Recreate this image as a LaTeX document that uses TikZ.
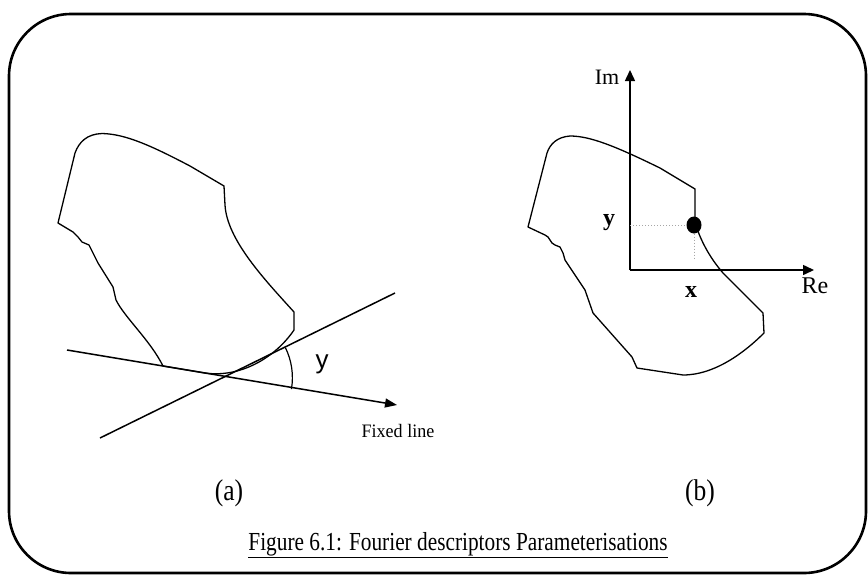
\documentclass[tikz,border=0pt]{standalone}
\usepackage{fontspec}
\setmainfont{Liberation Serif}
\newfontfamily\sansy{Liberation Sans}
\usetikzlibrary{arrows.meta,shapes.geometric}
\tikzset{
  outline/.style={line width=1.3pt, line join=round},
  axis/.style={line width=1.5pt, -{Triangle[length=11pt,width=10pt]}},
  tline/.style={line width=1.5pt},
  lbl/.style={inner sep=0pt, font=\fontsize{19}{22}\selectfont},
  bigl/.style={inner sep=0pt, font=\fontsize{30}{34}\selectfont},
  frame/.style={line width=2.6pt, rounded corners=62pt},
  guide/.style={gray!70, line width=1pt, dotted}
}
\begin{document}
\begin{tikzpicture}[x=1pt,y=-1pt]
\useasboundingbox (0,0) rectangle (868,576);
% frame
\draw[frame] (9,14) rectangle (866,573);

% ---------- (a) ----------
\draw[outline] (58,223) -- (75,153)
  .. controls (79,142) and (87,134) .. (102,133.5)
  .. controls (125,134) and (150,145) .. (190,166) -- (224,186)
  -- (225,205) .. controls (227,240) and (265,280) .. (294,312)
  -- (294,330) .. controls (275,358) and (240,378) .. (205,373)
  -- (163,366) .. controls (150,340) and (125,318) .. (116,300)
  -- (113,287) -- (98,263) -- (89,245) -- (82,242) -- (78,237) -- (73,232) -- cycle;

\coordinate (fA) at (67,350);
\coordinate (fB) at (397,405);
\coordinate (tA) at (100,438);
\coordinate (tB) at (395,293);
\coordinate (X) at (224.4,377.7);
\draw[tline, -{Triangle[length=12pt,width=9pt]}] (fA) -- (fB);
\draw[tline] (tA) -- (tB);
\draw[line width=1.2pt] (X) ++(9.7:68) arc[start angle=9.7, end angle=-26.2, radius=68];
\node[inner sep=0pt, font=\sansy\fontsize{26}{28}\selectfont] (gam) at (322,364) {y};
\node[lbl, font=\fontsize{19}{22}\selectfont] (fix) at (398,431) {\scalebox{0.95}[1]{Fixed line}};
\node[bigl] (la) at (229,493) {\scalebox{0.85}[1]{(a)}};

% ---------- (b) ----------
\draw[outline] (528,227) -- (547,153)
  .. controls (550,144) and (557,137) .. (570,136)
  .. controls (590,136) and (615,146) .. (660,168) -- (695,189)
  -- (695,222) .. controls (700,240) and (710,258) .. (723,273)
  -- (763,313) -- (764,333) .. controls (745,352) and (715,375) .. (683,375)
  -- (637,368) -- (632,357) -- (593,313) -- (585,290) -- (565,260)
  -- (563,253) -- (560,247) -- (555,245) -- (552,243) -- (548,237) -- (545,235) -- cycle;

\coordinate (O) at (630,270);
\coordinate (imtip) at (630,70);
\coordinate (retip) at (814,270);
\draw[axis] (O) -- (imtip);
\draw[axis] (O) -- (retip);
\node[fill=black, ellipse, minimum width=15pt, minimum height=17pt, inner sep=0pt] (dot) at (694,225) {};
\coordinate (yax) at (630,225);
\coordinate (xax) at (694,258);
\draw[guide] (yax) -- (dot.west);
\draw[guide] (dot.south) -- (xax);
\node[lbl, font=\fontsize{22}{24}\selectfont] (im) at (607,77) {Im};
\node[lbl, font=\fontsize{24}{26}\selectfont] (re) at (815,286) {Re};
\node[lbl, font=\bfseries\fontsize{24}{26}\selectfont] (yl) at (609,223) {y};
\node[lbl, font=\bfseries\fontsize{24}{26}\selectfont] (xl) at (691,292) {x};
\node[bigl] (lb) at (700,493) {\scalebox{0.85}[1]{(b)}};

% caption
\node[inner sep=0pt, anchor=base, font=\fontsize{26}{30}\selectfont] (cap) at (458,550) {\scalebox{0.82}[1]{\underline{Figure 6.1: Fourier descriptors Parameterisations}}};
\end{tikzpicture}
\end{document}
